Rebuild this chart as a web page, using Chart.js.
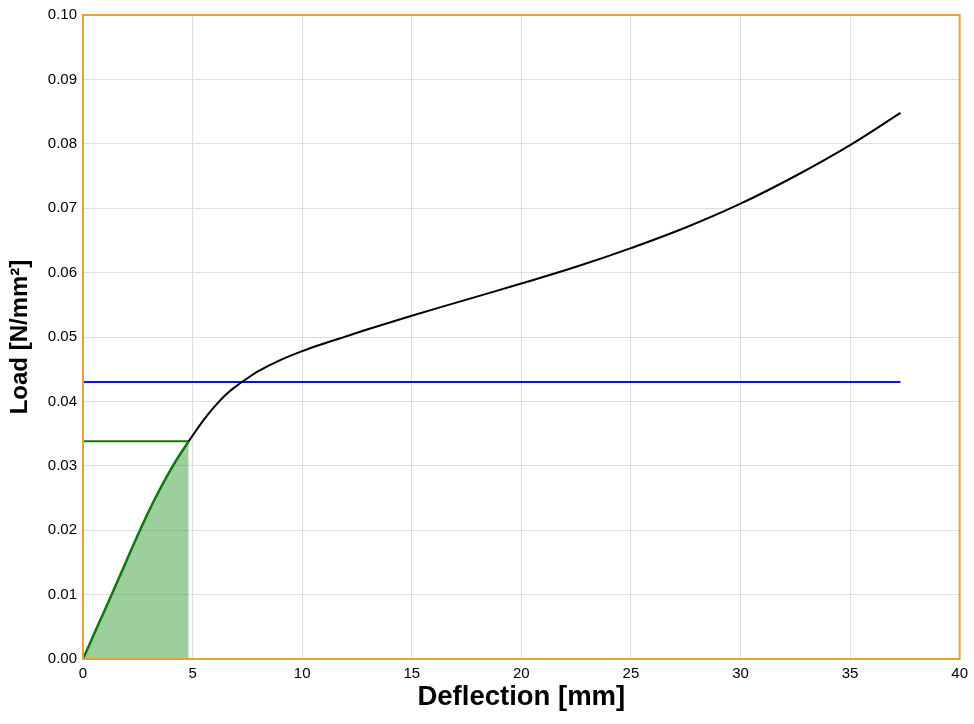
<!DOCTYPE html>
<html>
<head>
    <meta charset="UTF-8">
    <title>Load - Deflection</title>
    <script src="https://cdn.jsdelivr.net/npm/chart.js"></script>
    <style>
        body {
            margin: 0;
            background-color: #fff;
        }
        #wrap {
            width: 974px;
            height: 724px;
        }
    </style>
</head>
<body>
    <div id="wrap"><canvas id="loadChart" width="974" height="724"></canvas></div>
    <script>
        // values
        const greenX = [0, 0.65, 1.31, 1.95, 2.6, 3.3, 4.1, 4.82];
        const greenY = [0, 0.005, 0.01, 0.015, 0.02, 0.025, 0.03, 0.0338];

        const curveX = [4.82, 5.5, 6, 6.5, 7, 7.5, 8, 9, 10, 11, 12, 13, 15, 17.5, 20, 22.5, 25, 27.5, 30, 32.5, 35, 37.3];
        const curveY = [0.0338, 0.0371, 0.0392, 0.041, 0.0424, 0.0436, 0.0447, 0.0464, 0.0478, 0.049, 0.0501, 0.0512, 0.0533, 0.0558, 0.0583, 0.0609, 0.0638, 0.067, 0.0707, 0.075, 0.0798, 0.0848];

        const levelX = [0, 4.82];
        const levelY = [0.0338, 0.0338];

        const limitX = [0, 37.3];
        const limitY = [0.043, 0.043];

        const xTicks = [0, 5, 10, 15, 20, 25, 30, 35, 40];
        const yTicks = [0, 0.01, 0.02, 0.03, 0.04, 0.05, 0.06, 0.07, 0.08, 0.09, 0.10];

        const pts = (xs, ys) => xs.map((x, i) => ({ x: x, y: ys[i] }));

        // orange frame round the plot area
        const frame = {
            id: 'frame',
            afterDraw(chart) {
                const a = chart.chartArea;
                const c = chart.ctx;
                c.save();
                c.strokeStyle = '#e6a03c';
                c.lineWidth = 2;
                c.strokeRect(a.left, a.top, a.right - a.left, a.bottom - a.top);
                c.restore();
            }
        };

        const ctx = document.getElementById('loadChart').getContext('2d');
        new Chart(ctx, {
            type: 'scatter',
            data: {
                datasets: [
                    {
                        data: pts(limitX, limitY),
                        showLine: true,
                        borderColor: '#1010e0',
                        borderWidth: 2,
                        pointRadius: 0,
                        order: 3
                    },
                    {
                        data: pts(levelX, levelY),
                        showLine: true,
                        borderColor: '#0a7a0a',
                        borderWidth: 2,
                        pointRadius: 0,
                        order: 2
                    },
                    {
                        data: pts(greenX, greenY),
                        showLine: true,
                        borderColor: '#0a7a0a',
                        backgroundColor: 'rgba(60, 160, 60, 0.5)',
                        fill: 'origin',
                        borderWidth: 2.5,
                        pointRadius: 0,
                        tension: 0.4,
                        order: 1
                    },
                    {
                        data: pts(curveX, curveY),
                        showLine: true,
                        borderColor: '#000',
                        borderWidth: 2,
                        pointRadius: 0,
                        tension: 0.4,
                        order: 0
                    }
                ]
            },
            options: {
                responsive: false,
                animation: false,
                layout: {
                    padding: { left: 0, top: 15, right: 13, bottom: 0 }
                },
                plugins: {
                    legend: { display: false },
                    tooltip: { enabled: false }
                },
                scales: {
                    x: {
                        type: 'linear',
                        min: 0,
                        max: 40,
                        afterBuildTicks: s => { s.ticks = xTicks.map(v => ({ value: v })); },
                        afterFit: s => { s.height = 65; },
                        grid: { color: '#dddddd', drawTicks: false },
                        border: { display: false },
                        ticks: {
                            color: '#000',
                            padding: 6,
                            font: { family: 'Liberation Sans, Arial, sans-serif', size: 15 }
                        },
                        title: {
                            display: true,
                            text: 'Deflection [mm]',
                            color: '#000',
                            padding: 10,
                            font: { family: 'Liberation Sans, Arial, sans-serif', size: 27.5, weight: 'bold' }
                        }
                    },
                    y: {
                        type: 'linear',
                        min: 0,
                        max: 0.1,
                        afterBuildTicks: s => { s.ticks = yTicks.map(v => ({ value: v })); },
                        afterFit: s => { s.width = 83; },
                        grid: { color: '#dddddd', drawTicks: false },
                        border: { display: false },
                        ticks: {
                            color: '#000',
                            padding: 6,
                            font: { family: 'Liberation Sans, Arial, sans-serif', size: 15 },
                            callback: v => v.toFixed(2)
                        },
                        title: {
                            display: true,
                            text: 'Load [N/mm²]',
                            color: '#000',
                            padding: 6,
                            font: { family: 'Liberation Sans, Arial, sans-serif', size: 24, weight: 'bold' }
                        }
                    }
                }
            },
            plugins: [frame]
        });
    </script>
</body>
</html>
